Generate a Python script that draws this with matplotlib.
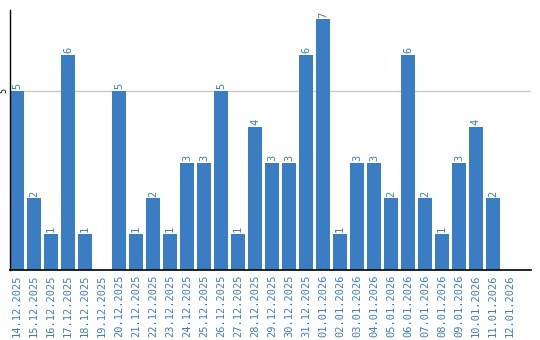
import numpy as np
import matplotlib
matplotlib.use('Agg')
import matplotlib.pyplot as plt

dates = ['14.12.2025', '15.12.2025', '16.12.2025', '17.12.2025', '18.12.2025',
         '19.12.2025', '20.12.2025', '21.12.2025', '22.12.2025', '23.12.2025',
         '24.12.2025', '25.12.2025', '26.12.2025', '27.12.2025', '28.12.2025',
         '29.12.2025', '30.12.2025', '31.12.2025', '01.01.2026', '02.01.2026',
         '03.01.2026', '04.01.2026', '05.01.2026', '06.01.2026', '07.01.2026',
         '08.01.2026', '09.01.2026', '10.01.2026', '11.01.2026', '12.01.2026']
counts = [5, 2, 1, 6, 1, 0, 5, 1, 2, 1, 3, 3, 5, 1, 4, 3, 3, 6, 7, 1,
          3, 3, 2, 6, 2, 1, 3, 4, 2, 0]

blue = '#3b7dc3'
fig = plt.figure(figsize=(5.4, 3.4), dpi=100)
ax = fig.add_axes([10/540, 70/340, 521/540, 260/340])

x = np.arange(len(dates))
ax.bar(x, counts, width=14/17, color=blue, zorder=2)
for xi, v in zip(x, counts):
    if v > 0:
        ax.text(xi, v + 0.05, str(v), rotation=90, ha='center', va='bottom',
                color=blue, fontsize=7.5, family='DejaVu Sans Mono')

ax.set_xlim(-7/17, 30.24)
ax.set_ylim(0, 7.26)
ax.set_yticks([5])
ax.set_yticklabels(['5'], rotation=90, va='center', fontsize=6,
                   family='DejaVu Sans Mono')
ax.tick_params(axis='y', length=0, pad=1)
ax.yaxis.grid(True, color='#c8c8c8', linewidth=1, zorder=0)
ax.set_xticks(x)
ax.set_xticklabels(dates, rotation=90, color=blue, fontsize=7.5,
                   family='DejaVu Sans Mono', va='top')
ax.tick_params(axis='x', length=0, pad=3)
for s in ['top', 'right']:
    ax.spines[s].set_visible(False)
ax.spines['left'].set_color('black')
ax.spines['bottom'].set_color('black')
ax.spines['left'].set_linewidth(1)
ax.spines['bottom'].set_linewidth(1.2)

fig.savefig('out.png', dpi=100)
